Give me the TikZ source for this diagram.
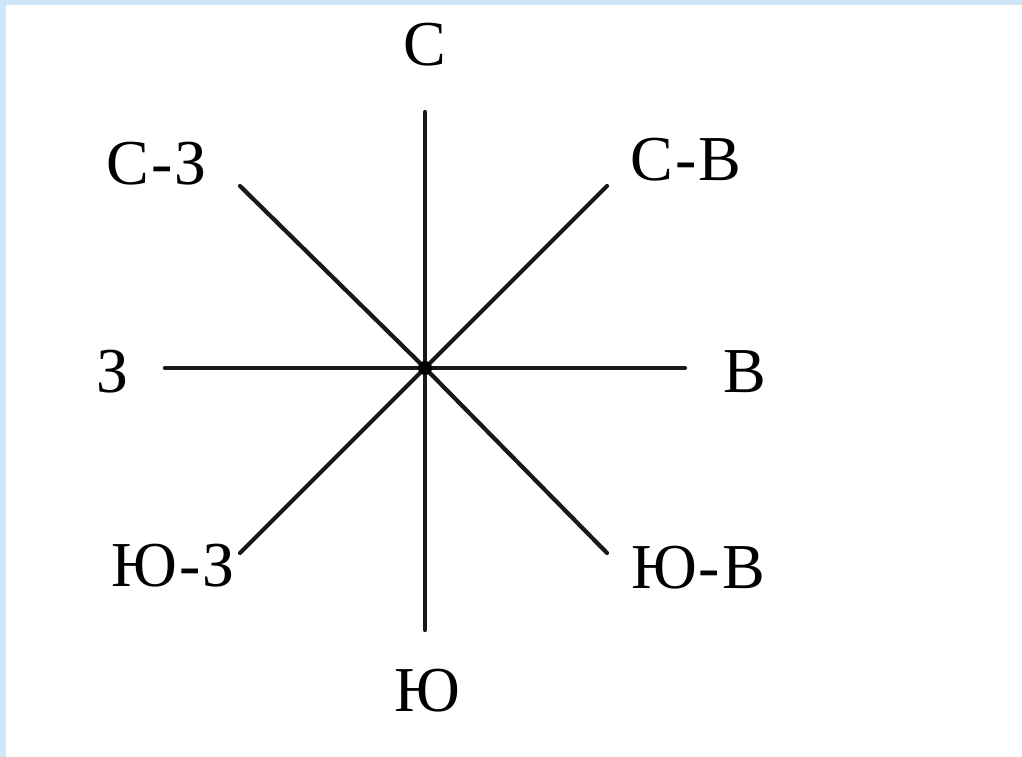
\documentclass[tikz,border=0pt]{standalone}
\usepackage{fontspec}
\setmainfont{Liberation Serif}
\definecolor{slideblue}{HTML}{CFE6F8}
\newcommand{\dsh}{\kern2pt-\kern2pt}
\begin{document}
\begin{tikzpicture}[x=1pt,y=-1pt,
  ray/.style={line width=4.2pt, line cap=round, black!90},
  lbl/.style={inner sep=0pt, font=\fontsize{64}{64}\selectfont}]
\fill[slideblue] (0,0) rectangle (1022,757);
\fill[white] (6,5) rectangle (1022,757);
\useasboundingbox (0,0) rectangle (1022,757);
\coordinate (O) at (425,368);
\coordinate (n) at (425,112);
\coordinate (s) at (425,630);
\coordinate (w) at (165,368);
\coordinate (e) at (685,368);
\coordinate (nw) at (240,186);
\coordinate (ne) at (607,186);
\coordinate (sw) at (240,553);
\coordinate (se) at (607,553);
\foreach \p in {n,s,w,e,nw,ne,sw,se} \draw[ray] (O) -- (\p);
\fill (O) circle (7);
\node[lbl] (ln) at (425,45) {С};
\node[lbl] (lnw) at (157,164) {С\dsh З};
\node[lbl] (lne) at (686,160) {С\dsh В};
\node[lbl] (lw) at (113,372) {З};
\node[lbl] (le) at (745,372) {В};
\node[lbl] (lsw) at (173,566) {Ю\dsh З};
\node[lbl] (lse) at (698,568) {Ю\dsh В};
\node[lbl] (ls) at (427,691) {Ю};
\end{tikzpicture}
\end{document}
